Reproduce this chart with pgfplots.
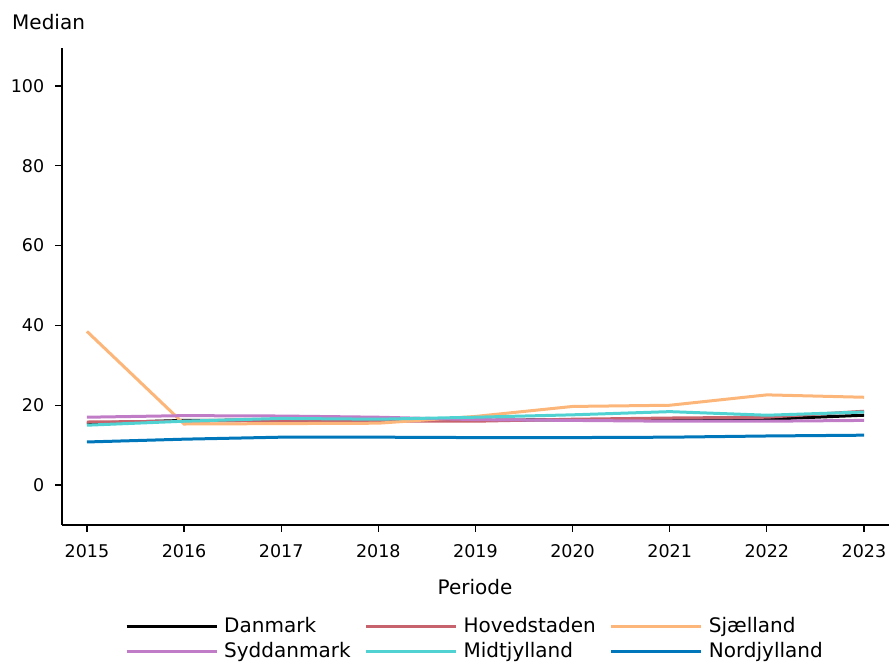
\documentclass[border=0pt]{standalone}
\usepackage{fontspec}
\setmainfont{DejaVu Sans}
\usepackage{pgfplots}
\pgfplotsset{compat=1.18}
\definecolor{cDan}{RGB}{0,0,0}
\definecolor{cHov}{RGB}{199,99,108}
\definecolor{cSja}{RGB}{253,182,122}
\definecolor{cSyd}{RGB}{192,124,198}
\definecolor{cMid}{RGB}{80,210,210}
\definecolor{cNor}{RGB}{0,119,187}
\begin{document}
\fontsize{20}{24}\selectfont
\begin{tikzpicture}
\useasboundingbox (0,0) rectangle (891pt,663pt);
\begin{axis}[
  at={(62pt,138pt)}, anchor=south west,
  scale only axis, width=827pt, height=477pt,
  xmin=2014.743, xmax=2023.257, ymin=-10, ymax=109.5,
  axis x line*=bottom, axis y line*=left,
  axis line style={line width=1.5pt},
  tick style={line width=1.3pt, black},
  tick align=outside, major tick length=7pt,
  xtick={2015,...,2023}, ytick={0,20,...,100},
  x tick label style={/pgf/number format/1000 sep={}, yshift=-6pt},
  y tick label style={xshift=-4pt},
  /pgf/number format/assume math mode=true,
  tick label style={font=\fontsize{17.5}{21}\selectfont},
  every axis plot/.append style={line width=3pt},
  legend columns=3,
  legend style={draw=none, at={(413pt,-114pt)}, anchor=center, font=\fontsize{20}{24}\selectfont, /tikz/every even column/.append style={column sep=12pt}, row sep=2pt},
  legend cell align=left,
  legend image code/.code={\draw[#1] (0pt,0pt) -- (90pt,0pt); \path (94pt,0pt);},
  clip=false,
]
\addplot[cDan] coordinates {(2015,15.5)(2016,16.2)(2017,16.3)(2018,16.2)(2019,16.2)(2020,16.4)(2021,16.4)(2022,16.5)(2023,17.5)};
\addlegendentry{Danmark}
\addplot[cHov] coordinates {(2015,15.8)(2016,16.0)(2017,16.2)(2018,16.0)(2019,16.0)(2020,16.5)(2021,16.8)(2022,17.0)(2023,18.5)};
\addlegendentry{Hovedstaden}
\addplot[cSja] coordinates {(2015,38.5)(2016,15.3)(2017,15.4)(2018,15.5)(2019,17.2)(2020,19.7)(2021,20.0)(2022,22.6)(2023,22.0)};
\addlegendentry{Sjælland}
\addplot[cSyd] coordinates {(2015,17.0)(2016,17.4)(2017,17.3)(2018,17.0)(2019,16.4)(2020,16.2)(2021,16.0)(2022,16.0)(2023,16.2)};
\addlegendentry{Syddanmark}
\addplot[cMid] coordinates {(2015,15.0)(2016,16.0)(2017,16.7)(2018,16.5)(2019,17.0)(2020,17.6)(2021,18.4)(2022,17.5)(2023,18.3)};
\addlegendentry{Midtjylland}
\addplot[cNor] coordinates {(2015,10.8)(2016,11.5)(2017,12.0)(2018,12.0)(2019,11.9)(2020,11.9)(2021,12.0)(2022,12.3)(2023,12.5)};
\addlegendentry{Nordjylland}
\end{axis}
\node[anchor=base west, inner sep=0pt] at (12pt,633pt) {Median};
\node[anchor=base, inner sep=0pt] at (475pt,68pt) {Periode};
\end{tikzpicture}
\end{document}
